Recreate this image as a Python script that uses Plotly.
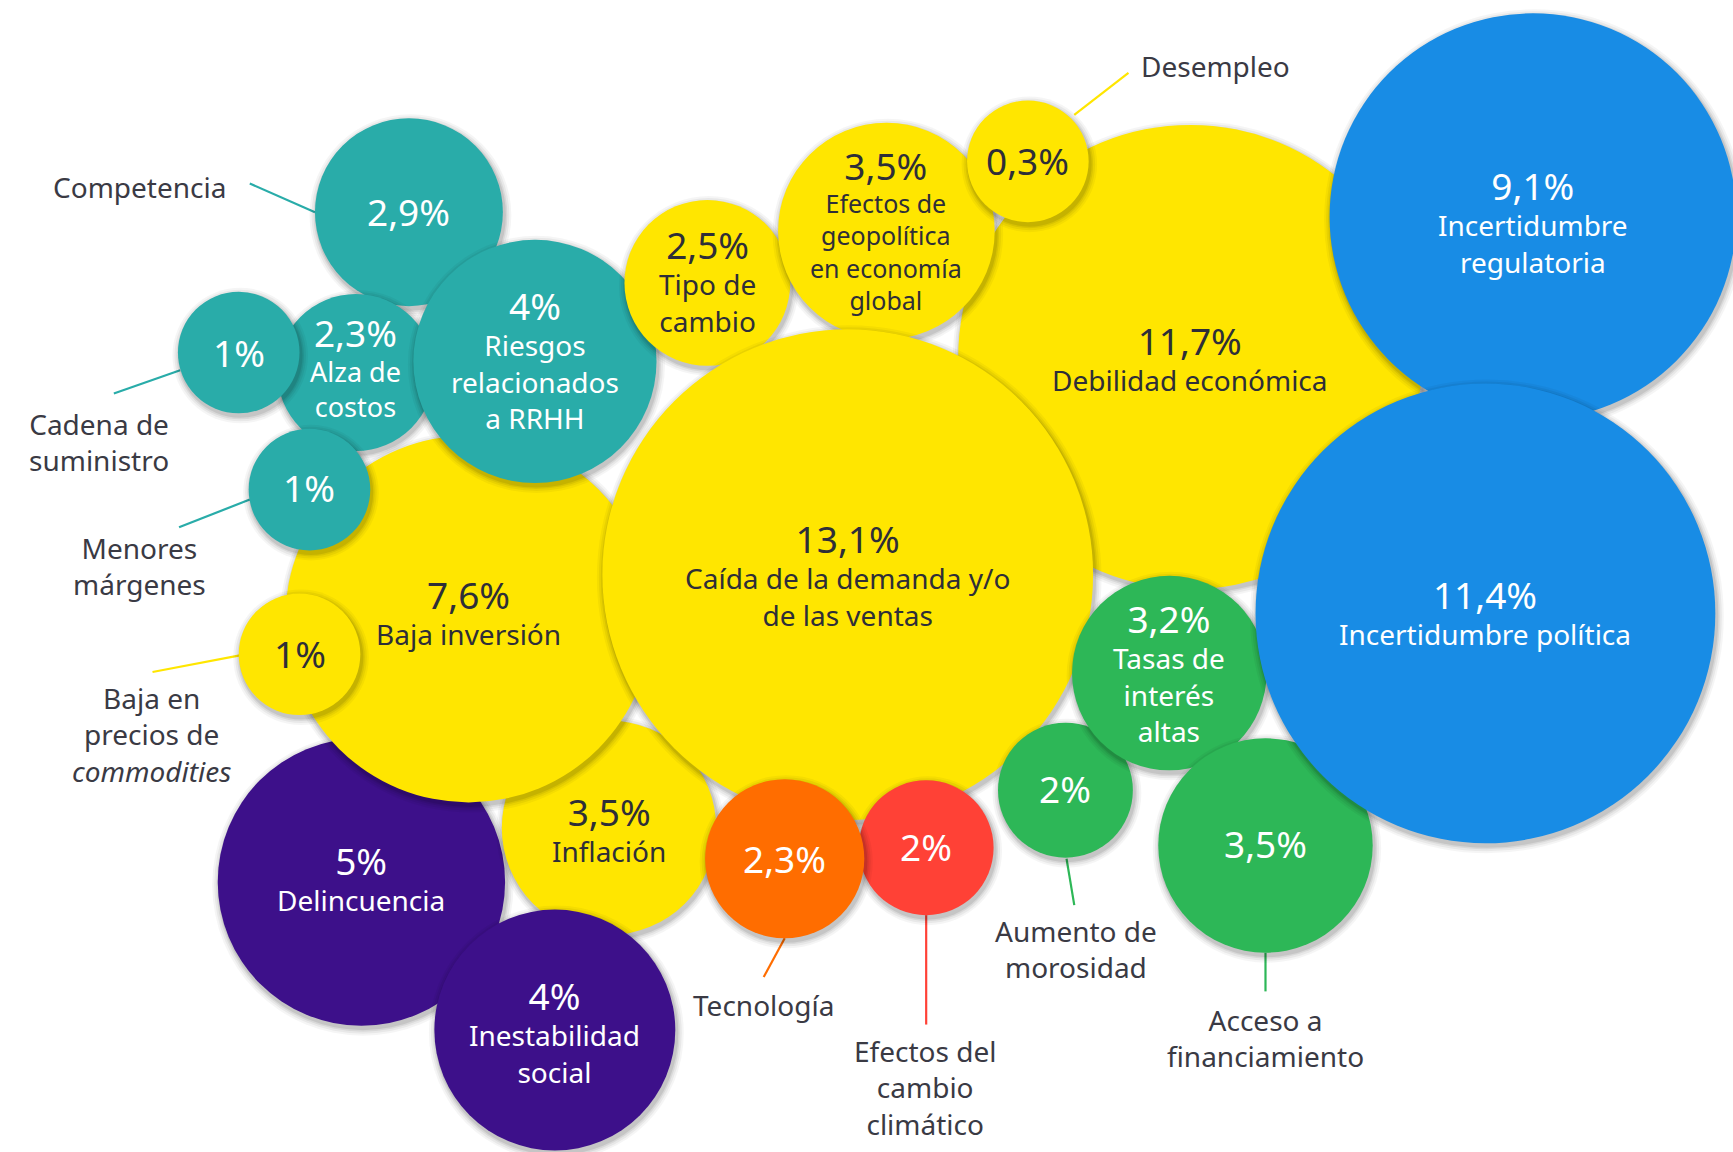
import plotly.graph_objects as go

# ---------------- DATA ----------------
categories = [
    "Caída de la demanda y/o de las ventas", "Debilidad económica", "Incertidumbre política",
    "Incertidumbre regulatoria", "Baja inversión", "Delincuencia", "Riesgos relacionados a RRHH",
    "Inestabilidad social", "Efectos de geopolítica en economía global", "Inflación",
    "Acceso a financiamiento", "Tasas de interés altas", "Competencia", "Tipo de cambio",
    "Alza de costos", "Tecnología", "Aumento de morosidad", "Efectos del cambio climático",
    "Cadena de suministro", "Menores márgenes", "Baja en precios de commodities", "Desempleo",
]
values = [13.1, 11.7, 11.4, 9.1, 7.6, 5, 4, 4, 3.5, 3.5, 3.5, 3.2, 2.9, 2.5, 2.3, 2.3, 2, 2, 1, 1, 1, 0.3]
groups = ["económico", "económico", "político", "político", "económico", "social", "empresa",
          "social", "económico", "económico", "financiero", "financiero", "empresa", "económico",
          "empresa", "tecnología", "financiero", "clima", "empresa", "empresa", "económico", "económico"]

# ---------------- STYLE / LAYOUT ----------------
SCALE = 1733 / 1568
W, H = 1733, 1152
group_colors = {
    "económico": "#FFE600", "político": "#188CE5", "social": "#3D108A", "empresa": "#29ACA9",
    "financiero": "#2DB757", "tecnología": "#FF6D00", "clima": "#FF4136",
}
DARK = "#2E2E38"
FONT = "Noto Sans"
ASC, DESC = 1.069, 0.293   # font metrics used to centre text blocks
PCT_SIZE = 37
LAB_SIZE = 28
DY = -1.5  # small vertical correction of text (reference units)

# draw order (bottom to top)
draw_order = [
    "Debilidad económica", "Incertidumbre regulatoria", "Competencia", "Alza de costos",
    "Cadena de suministro", "Delincuencia", "Inflación", "Baja inversión", "Menores márgenes",
    "Baja en precios de commodities", "Inestabilidad social", "Riesgos relacionados a RRHH",
    "Tipo de cambio", "Efectos de geopolítica en economía global", "Desempleo",
    "Caída de la demanda y/o de las ventas", "Efectos del cambio climático", "Tecnología",
    "Aumento de morosidad", "Tasas de interés altas", "Acceso a financiamiento",
    "Incertidumbre política",
]

# bubble geometry in reference units: cx, cy, r, y of value text
geom = {
    "Caída de la demanda y/o de las ventas": (767, 520, 222, 490),
    "Debilidad económica": (1077, 323, 210, 310),
    "Incertidumbre política": (1344, 555, 208, 540),
    "Incertidumbre regulatoria": (1387, 196, 184, 170),
    "Baja inversión": (424, 560, 166, 540),
    "Delincuencia": (327, 798, 130, 781),
    "Riesgos relacionados a RRHH": (484, 327, 110, 279),
    "Inestabilidad social": (502, 932, 109, 903),
    "Efectos de geopolítica en economía global": (802, 209, 98, 152),
    "Inflación": (551, 749, 97, 736),
    "Acceso a financiamiento": (1145, 765, 97, 765),
    "Tasas de interés altas": (1058, 609, 88, 562),
    "Competencia": (370, 192, 85, 193),
    "Tipo de cambio": (640, 256, 75, 224),
    "Alza de costos": (322, 337, 71, 303),
    "Tecnología": (710, 777, 72, 778),
    "Aumento de morosidad": (964, 715, 61, 715),
    "Efectos del cambio climático": (838, 767, 61, 767),
    "Cadena de suministro": (216, 319, 55, 320),
    "Menores márgenes": (280, 443, 55, 443),
    "Baja en precios de commodities": (271, 592, 55, 593),
    "Desempleo": (930, 146, 55, 147),
}

# labels inside bubbles: wrapped lines, font size
inside = {
    "Caída de la demanda y/o de las ventas": (["Caída de la demanda y/o", "de las ventas"], LAB_SIZE),
    "Debilidad económica": (["Debilidad económica"], LAB_SIZE),
    "Incertidumbre política": (["Incertidumbre política"], LAB_SIZE),
    "Incertidumbre regulatoria": (["Incertidumbre", "regulatoria"], LAB_SIZE),
    "Baja inversión": (["Baja inversión"], LAB_SIZE),
    "Delincuencia": (["Delincuencia"], LAB_SIZE),
    "Riesgos relacionados a RRHH": (["Riesgos", "relacionados", "a RRHH"], LAB_SIZE),
    "Inestabilidad social": (["Inestabilidad", "social"], LAB_SIZE),
    "Efectos de geopolítica en economía global": (["Efectos de", "geopolítica", "en economía", "global"], 25),
    "Inflación": (["Inflación"], LAB_SIZE),
    "Tasas de interés altas": (["Tasas de", "interés", "altas"], LAB_SIZE),
    "Tipo de cambio": (["Tipo de", "cambio"], LAB_SIZE),
    "Alza de costos": (["Alza de", "costos"], 27),
}

# labels outside bubbles: wrapped text, x, y, xanchor, leader line (x0, y0, x1, y1)
outside = {
    "Competencia": ("Competencia", 126, 171, "center", (226, 166, 285, 192)),
    "Cadena de suministro": ("Cadena de<br>suministro", 90, 401.5, "center", (103, 356, 163, 335)),
    "Menores márgenes": ("Menores<br>márgenes", 126, 513.5, "center", (162, 477, 226, 452)),
    "Baja en precios de commodities": ("Baja en<br>precios de<br><i>commodities</i>", 137, 666.5, "center",
                                       (138, 608, 217, 593)),
    "Desempleo": ("Desempleo", 1031, 61, "left", (972, 104, 1021, 66)),
    "Tecnología": ("Tecnología", 691, 911, "center", (691, 884, 710, 849)),
    "Efectos del cambio climático": ("Efectos del<br>cambio<br>climático", 837, 985.5, "center",
                                     (838, 828, 838, 927)),
    "Aumento de morosidad": ("Aumento de<br>morosidad", 974, 860, "center", (965, 777, 972, 819)),
    "Acceso a financiamiento": ("Acceso a<br>financiamiento", 1145, 940.5, "center",
                                (1145, 862, 1145, 897)),
}


def fmt(v):
    if abs(v - round(v)) < 1e-9:
        return f"{int(round(v))}%"
    return f"{v:.1f}".replace(".", ",") + "%"


val_of = dict(zip(categories, values))
grp_of = dict(zip(categories, groups))

fig = go.Figure()

# leader lines (under bubbles)
for name, (_, _, _, _, (x0, y0, x1, y1)) in outside.items():
    fig.add_trace(go.Scatter(
        x=[x0 * SCALE, x1 * SCALE], y=[y0 * SCALE, y1 * SCALE], mode="lines",
        line=dict(color=group_colors[grp_of[name]], width=2.2), hoverinfo="skip"))

# bubbles with soft shadows, all in one trace so drawing order interleaves
xs, ys, sizes, cols = [], [], [], []
shadow_rings = [(14, 0.04), (10, 0.05), (6, 0.065), (3, 0.085)]
for name in draw_order:
    cx, cy, r, _ = geom[name]
    d = 2 * r * SCALE
    for extra, a in shadow_rings:
        xs.append(cx * SCALE + 1.5)
        ys.append(cy * SCALE + 3)
        sizes.append(d + extra)
        cols.append(f"rgba(0,0,0,{a})")
    xs.append(cx * SCALE)
    ys.append(cy * SCALE)
    sizes.append(d)
    cols.append(group_colors[grp_of[name]])

fig.add_trace(go.Scatter(
    x=xs, y=ys, mode="markers",
    marker=dict(size=sizes, color=cols, line=dict(width=0), sizemode="diameter", opacity=1),
    hoverinfo="skip"))

annotations = []
for name in categories:
    cx, cy, r, py = geom[name]
    on_yellow = grp_of[name] == "económico"
    tcol = DARK if on_yellow else "#FFFFFF"
    pct_c = (py + DY) * SCALE          # visual centre of the value digits
    if name in inside:
        lines, fs = inside[name]
        n = len(lines)
        base1 = pct_c + 0.357 * PCT_SIZE
        mid = base1 + (n * 1.3 * fs + DESC * fs - ASC * PCT_SIZE) / 2
        txt = f"<span style='font-size:{PCT_SIZE}px'>{fmt(val_of[name])}</span><br>" + "<br>".join(lines)
        annotations.append(dict(
            x=cx * SCALE, y=mid, text=txt, showarrow=False, align="center",
            xanchor="center", yanchor="middle", font=dict(family=FONT, size=fs, color=tcol)))
    else:
        annotations.append(dict(
            x=cx * SCALE, y=pct_c, text=fmt(val_of[name]), showarrow=False,
            xanchor="center", yanchor="middle", font=dict(family=FONT, size=PCT_SIZE, color=tcol)))
    if name in outside:
        txt, lx, ly, xa, _ = outside[name]
        annotations.append(dict(
            x=lx * SCALE, y=(ly + DY) * SCALE, text=txt, showarrow=False, align="center",
            xanchor=xa, yanchor="middle", font=dict(family=FONT, size=LAB_SIZE, color="#3A3A44")))

fig.update_layout(
    width=W, height=H, margin=dict(l=0, r=0, t=0, b=0),
    paper_bgcolor="white", plot_bgcolor="white", showlegend=False,
    xaxis=dict(range=[0, W], visible=False, fixedrange=True),
    yaxis=dict(range=[H, 0], visible=False, fixedrange=True),
    annotations=annotations,
)

fig.write_html("out.html", config={"displayModeBar": False},
               post_script="document.body.style.margin='0';")
